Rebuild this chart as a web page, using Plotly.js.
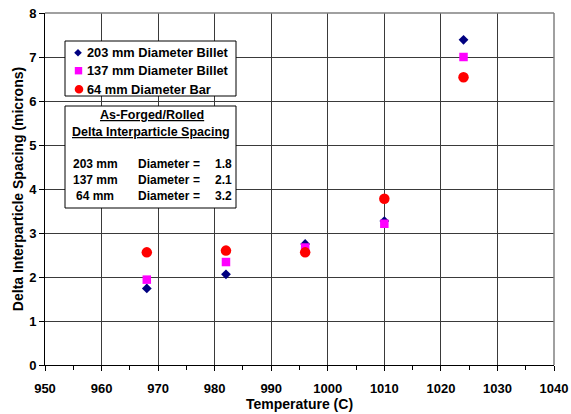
<!DOCTYPE html>
<html>
<head>
<meta charset="utf-8">
<script src="https://cdn.plot.ly/plotly-3.0.1.min.js"></script>
<style>
html,body{margin:0;padding:0;background:#fff;}
#chart{width:571px;height:414px;}
</style>
</head>
<body>
<div id="chart"></div>
<script>
// Data
const temperatures = [968, 982, 996, 1010, 1024];
const billet203 = [1.74, 2.06, 2.75, 3.27, 7.39];
const billet137 = [1.94, 2.34, 2.67, 3.21, 7.00];
const bar64 = [2.56, 2.60, 2.56, 3.78, 6.54];
const seriesNames = ['203 mm Diameter Billet', '137 mm Diameter Billet', '64 mm Diameter Bar'];
const seriesColors = ['#000080', '#FF00FF', '#FF0000'];
const asForgedSizes = ['203 mm', '137 mm', '64 mm'];
const asForgedValues = ['1.8', '2.1', '3.2'];
const xTickVals = [950, 960, 970, 980, 990, 1000, 1010, 1020, 1030, 1040];
const yTickVals = [0, 1, 2, 3, 4, 5, 6, 7, 8];

const FONT = 'Liberation Sans, Arial, sans-serif';

const traces = [
  {x: temperatures, y: billet203, name: seriesNames[0], type: 'scatter', mode: 'markers',
   marker: {symbol: 'diamond', size: 7.5, color: seriesColors[0]}},
  {x: temperatures, y: billet137, name: seriesNames[1], type: 'scatter', mode: 'markers',
   marker: {symbol: 'square', size: 8.5, color: seriesColors[1]}},
  {x: temperatures, y: bar64, name: seriesNames[2], type: 'scatter', mode: 'markers',
   marker: {symbol: 'circle', size: 10.5, color: seriesColors[2]}}
];

const L = 45, R = 554, T = 13, B = 365;
const px = v => (v - L) / (R - L);
const py = v => (B - v) / (B - T);
const ann = (text, x, y, xanchor, size) => ({text: text, x: px(x), y: py(y),
  xref: 'paper', yref: 'paper', xanchor: xanchor, yanchor: 'middle', showarrow: false,
  font: {family: FONT, size: size, color: '#000', weight: 'bold'}});

const annotations = [
  ann('<u>As-Forged/Rolled</u>', 152, 115, 'center', 12.5),
  ann('<u>Delta Interparticle Spacing</u>', 151, 131.5, 'center', 12.5)
];
const rowY = [163.5, 180, 196.5];
asForgedSizes.forEach((s, i) => {
  annotations.push(ann(s, 95, rowY[i], 'center', 12));
  annotations.push(ann('Diameter', 136, rowY[i], 'left', 12));
  annotations.push(ann('=', 196.5, rowY[i], 'center', 12));
  annotations.push(ann(asForgedValues[i], 234, rowY[i], 'right', 12));
});

// legend (drawn as a box with symbol shapes and labels)
const legRowY = [52.7, 70.7, 89.3];
seriesNames.forEach((n, i) => annotations.push(ann(n, 85, legRowY[i], 'left', 12.8)));

const shapes = [
  {type: 'line', xref: 'paper', yref: 'paper', x0: 0, x1: 1, y0: 1, y1: 1, line: {color: '#808080', width: 1.5}},
  {type: 'line', xref: 'paper', yref: 'paper', x0: 1, x1: 1, y0: 0, y1: 1, line: {color: '#808080', width: 1.5}},
  {type: 'rect', xref: 'paper', yref: 'paper', x0: px(65), x1: px(236), y0: py(106), y1: py(208),
   fillcolor: '#fff', line: {color: '#000', width: 1}, layer: 'above'},
  {type: 'rect', xref: 'paper', yref: 'paper', x0: px(65), x1: px(236), y0: py(41), y1: py(96),
   fillcolor: '#fff', line: {color: '#000', width: 1}, layer: 'above'},
  // legend symbols
  {type: 'path', xref: 'paper', yref: 'paper', xsizemode: 'pixel', ysizemode: 'pixel',
   xanchor: px(78), yanchor: py(legRowY[0]), path: 'M -3.8 0 L 0 3.8 L 3.8 0 L 0 -3.8 Z',
   fillcolor: seriesColors[0], line: {width: 0}, layer: 'above'},
  {type: 'rect', xref: 'paper', yref: 'paper', xsizemode: 'pixel', ysizemode: 'pixel',
   xanchor: px(78.5), yanchor: py(legRowY[1]), x0: -3.7, x1: 3.7, y0: -3.7, y1: 3.7,
   fillcolor: seriesColors[1], line: {width: 0}, layer: 'above'},
  {type: 'circle', xref: 'paper', yref: 'paper', xsizemode: 'pixel', ysizemode: 'pixel',
   xanchor: px(79), yanchor: py(legRowY[2]), x0: -4.3, x1: 4.3, y0: -4.3, y1: 4.3,
   fillcolor: seriesColors[2], line: {width: 0}, layer: 'above'}
];

const layout = {
  width: 571, height: 414,
  margin: {l: L, r: 571 - R, t: T, b: 414 - B},
  paper_bgcolor: '#fff', plot_bgcolor: '#fff',
  font: {family: FONT, size: 12, color: '#000', weight: 'bold'},
  showlegend: false,
  xaxis: {range: [950, 1040], tickvals: xTickVals, ticktext: xTickVals.map(String),
    showgrid: true, gridcolor: '#3a3a3a', gridwidth: 1,
    zeroline: false, showline: true, linecolor: '#000', linewidth: 1,
    ticks: 'outside', ticklen: 5, tickcolor: '#000', ticklabelstandoff: 6,
    minor: {dtick: 5, tick0: 950, ticks: 'outside', ticklen: 4, tickcolor: '#000', showgrid: false},
    tickfont: {family: FONT, size: 13, weight: 'bold'},
    title: {text: 'Temperature (C)', font: {family: FONT, size: 14, weight: 'bold'}, standoff: 0}},
  yaxis: {range: [0, 8], tickvals: yTickVals, ticktext: yTickVals.map(String),
    showgrid: true, gridcolor: '#3a3a3a', gridwidth: 1,
    zeroline: false, showline: true, linecolor: '#000', linewidth: 1,
    ticks: 'outside', ticklen: 5, tickcolor: '#000',
    tickfont: {family: FONT, size: 13, weight: 'bold'},
    title: {text: 'Delta Interparticle Spacing (microns)', font: {family: FONT, size: 14, weight: 'bold'}, standoff: 2}},
  shapes: shapes,
  annotations: annotations
};

Plotly.newPlot('chart', traces, layout, {displayModeBar: false, staticPlot: true});
</script>
</body>
</html>
